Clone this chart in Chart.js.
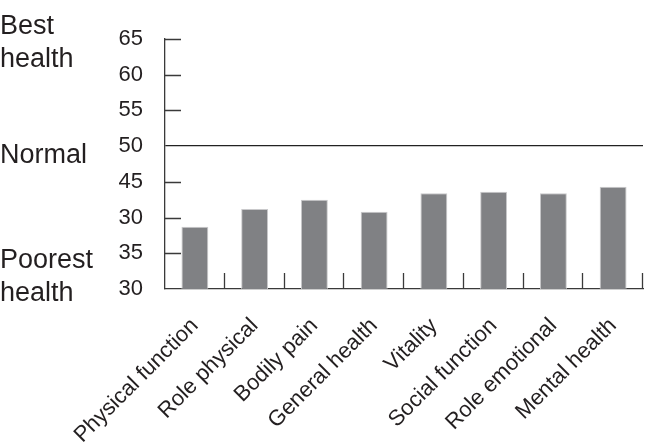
<!DOCTYPE html>
<html>
<head>
<meta charset="utf-8">
<script src="https://cdn.jsdelivr.net/npm/chart.js@4"></script>
<style>
  html, body { margin: 0; padding: 0; background: #fff; }
  #wrap { width: 646px; height: 445px; }
</style>
</head>
<body>
<div id="wrap"><canvas id="sf36Chart"></canvas></div>
<script>
// DATA
const categories = ['Physical function', 'Role physical', 'Bodily pain', 'General health',
  'Vitality', 'Social function', 'Role emotional', 'Mental health'];
const scores = [38.7, 41.2, 42.5, 40.8, 43.4, 43.6, 43.4, 44.3];
const tickValues = [30, 35, 40, 45, 50, 55, 60, 65];
const tickLabels = ['30', '35', '30', '45', '50', '55', '60', '65'];
const normValue = 50;
const sideNotes = [
  { value: 65, lines: ['Best', 'health'] },
  { value: 50, lines: ['Normal'] },
  { value: 30, lines: ['Poorest', 'health'] }
];

const ink = '#231f20';
const font = 'Arial, "Liberation Sans", Helvetica, sans-serif';

// inward tick marks + side notes
const decor = {
  id: 'decor',
  afterDraw(chart) {
    const c = chart.ctx, x = chart.scales.x, y = chart.scales.y, area = chart.chartArea;
    c.save();
    c.strokeStyle = '#3a3a3a';
    c.lineWidth = 1.3;
    c.beginPath();
    tickValues.forEach(v => {
      if (v === tickValues[0] || v === normValue) return;
      const py = Math.round(y.getPixelForValue(v)) + 0.5;
      c.moveTo(area.left, py); c.lineTo(area.left + 16, py);
    });
    const step = x.getPixelForValue(1) - x.getPixelForValue(0);
    categories.forEach((_, i) => {
      const px = Math.round(x.getPixelForValue(i) + step / 2) - 0.5;
      c.moveTo(px, area.bottom); c.lineTo(px, area.bottom - 16);
    });
    c.stroke();

    c.fillStyle = ink;
    c.font = '27px ' + font;
    c.textAlign = 'left';
    c.textBaseline = 'alphabetic';
    const offs = { 65: [-5, 28], 50: [17], 30: [-21, 12] };
    sideNotes.forEach(n => {
      const base = y.getPixelForValue(n.value);
      n.lines.forEach((t, k) => c.fillText(t, 0, base + offs[n.value][k]));
    });
    c.restore();
  }
};

new Chart(document.getElementById('sf36Chart'), {
  type: 'bar',
  data: {
    labels: categories,
    datasets: [{
      data: scores,
      backgroundColor: '#808184',
      borderColor: '#c9c9cb',
      borderWidth: 1,
      categoryPercentage: 1,
      barPercentage: 0.45
    }]
  },
  options: {
    responsive: true,
    maintainAspectRatio: false,
    animation: false,
    layout: { padding: { top: 39, right: 3, left: 0, bottom: 0 } },
    plugins: { legend: { display: false }, tooltip: { enabled: false } },
    scales: {
      x: {
        grid: { display: false, drawTicks: false },
        border: { display: true, color: '#3a3a3a', width: 1.3 },
        ticks: {
          autoSkip: false, maxRotation: 45, minRotation: 45, padding: 24,
          color: ink, font: { family: font, size: 22 }
        },
        afterFit(s) { s.height = 156; s.paddingLeft = 0; s.paddingRight = 0; }
      },
      y: {
        min: 30, max: 65,
        grid: {
          drawTicks: false,
          color: ctx => (ctx.tick && ctx.tick.value === normValue) ? '#222' : 'rgba(0,0,0,0)',
          lineWidth: 1.3
        },
        border: { display: true, color: '#3a3a3a', width: 1.3 },
        ticks: {
          stepSize: 5, padding: 22, color: ink,
          font: { family: font, size: 22 },
          callback: v => tickLabels[tickValues.indexOf(v)]
        },
        afterFit(s) { s.width = 165; }
      }
    }
  },
  plugins: [decor]
});
</script>
</body>
</html>
